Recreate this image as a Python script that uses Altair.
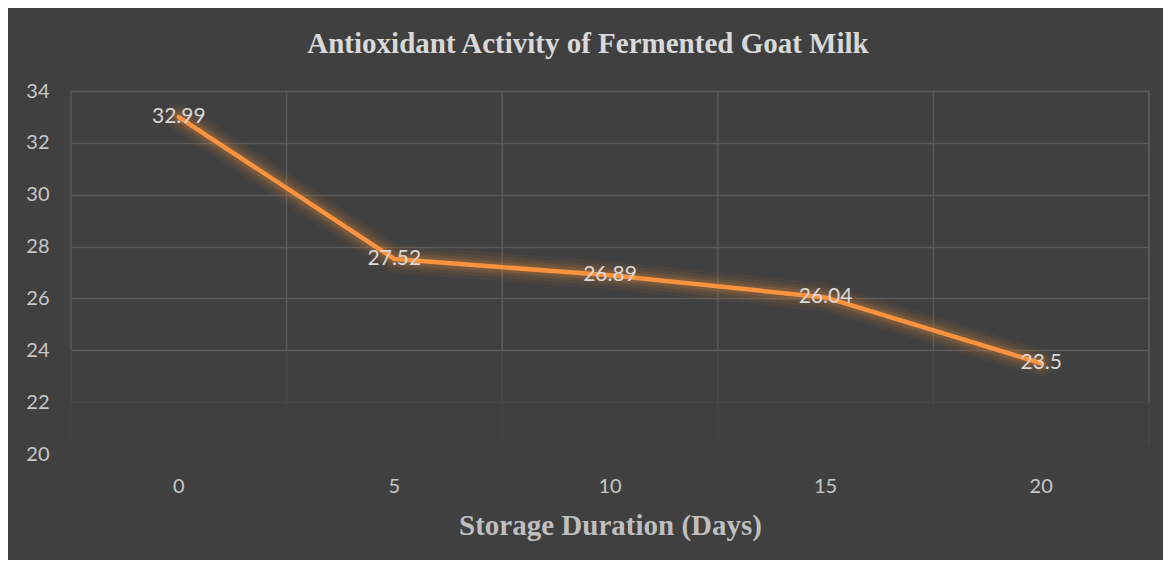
import altair as alt
import pandas as pd

days = ["0", "5", "10", "15", "20"]
activity = [32.99, 27.52, 26.89, 26.04, 23.5]
labels = ["32.99", "27.52", "26.89", "26.04", "23.5"]
y_ticks = [20, 22, 24, 26, 28, 30, 32, 34]

df = pd.DataFrame({"day": days, "activity": activity, "label": labels})

BG = "#404040"
GRID = "#5a5a5a"
ORANGE = "#F9933F"
X_TITLE = "Storage Duration (Days)"

xscale = alt.Scale(type="band", paddingInner=0, paddingOuter=0, domain=days)
yscale = alt.Scale(domain=[20, 34], nice=False, zero=False)

x_axis = alt.Axis(
    labelAngle=0, domain=False, ticks=False, tickSize=0, grid=False,
    labelFont="Lato", labelFontSize=20, labelColor="#c8c8c8", labelPadding=22,
    titleFont="Liberation Serif", titleFontSize=29, titleFontWeight="bold",
    titleColor="#bfbfbf", titlePadding=15,
)
y_axis = alt.Axis(
    values=y_ticks, domain=False, ticks=False, tickSize=0, grid=True,
    gridColor=GRID, gridWidth=1.5,
    gridOpacity={"condition": [{"test": "datum.value >= 24", "value": 1},
                               {"test": "datum.value >= 22", "value": 0.3}],
                 "value": 0},
    labelFont="Lato", labelFontSize=20, labelColor="#c8c8c8", labelPadding=22,
)

base = alt.Chart(df)


def vrules(y_top, y_bot, op, band, last_only=False):
    if last_only:
        xenc = alt.X(datum=days[-1], type="nominal", scale=xscale,
                     bandPosition=band, axis=x_axis, title=X_TITLE)
    else:
        xenc = alt.X("day:N", sort=days, scale=xscale, bandPosition=band,
                     axis=x_axis, title=X_TITLE)
    return base.mark_rule(color=GRID, strokeWidth=1.5, opacity=op).encode(
        x=xenc,
        y=alt.Y(datum=y_top, type="quantitative", scale=yscale, axis=y_axis, title=None),
        y2=alt.Y2(datum=y_bot),
    )


grid_layers = [
    vrules(34, 24, 1, 0), vrules(34, 24, 1, 1, True),
    vrules(24, 22, 0.4, 0), vrules(24, 22, 0.4, 1, True),
    vrules(22, 20.4, 0.15, 0), vrules(22, 20.4, 0.15, 1, True),
]

enc_x = alt.X("day:N", sort=days, scale=xscale, bandPosition=0.5, axis=x_axis,
              title=X_TITLE)
enc_y = alt.Y("activity:Q", scale=yscale, axis=y_axis, title=None)

glows = [
    base.mark_line(color="#d9843a", strokeWidth=w, opacity=o, strokeCap="round",
                   strokeJoin="round").encode(x=enc_x, y=enc_y)
    for w, o in [(28, 0.06), (21, 0.09), (15, 0.12), (10, 0.18)]
]

line = base.mark_line(color=ORANGE, strokeWidth=4.5, strokeCap="round",
                      strokeJoin="round").encode(x=enc_x, y=enc_y)

text = base.mark_text(font="Lato", fontSize=21, color="#d9d9d9",
                      align="center", baseline="middle").encode(
    x=enc_x, y=enc_y, text="label:N")

chart = alt.layer(*grid_layers, *glows, line, text).properties(
    width=1078, height=363,
    autosize=alt.AutoSizeParams(type="none"),
    padding={"left": 63, "top": 83, "right": 14, "bottom": 106},
    background=BG,
    title=alt.TitleParams(
        "Antioxidant Activity of Fermented Goat Milk",
        font="Liberation Serif", fontSize=29, fontWeight="bold",
        color="#d9d9d9", anchor="middle", offset=22, dx=-22,
    ),
).configure_view(stroke=None)

chart.save("out.html", embed_options={"renderer": "svg", "actions": False})
